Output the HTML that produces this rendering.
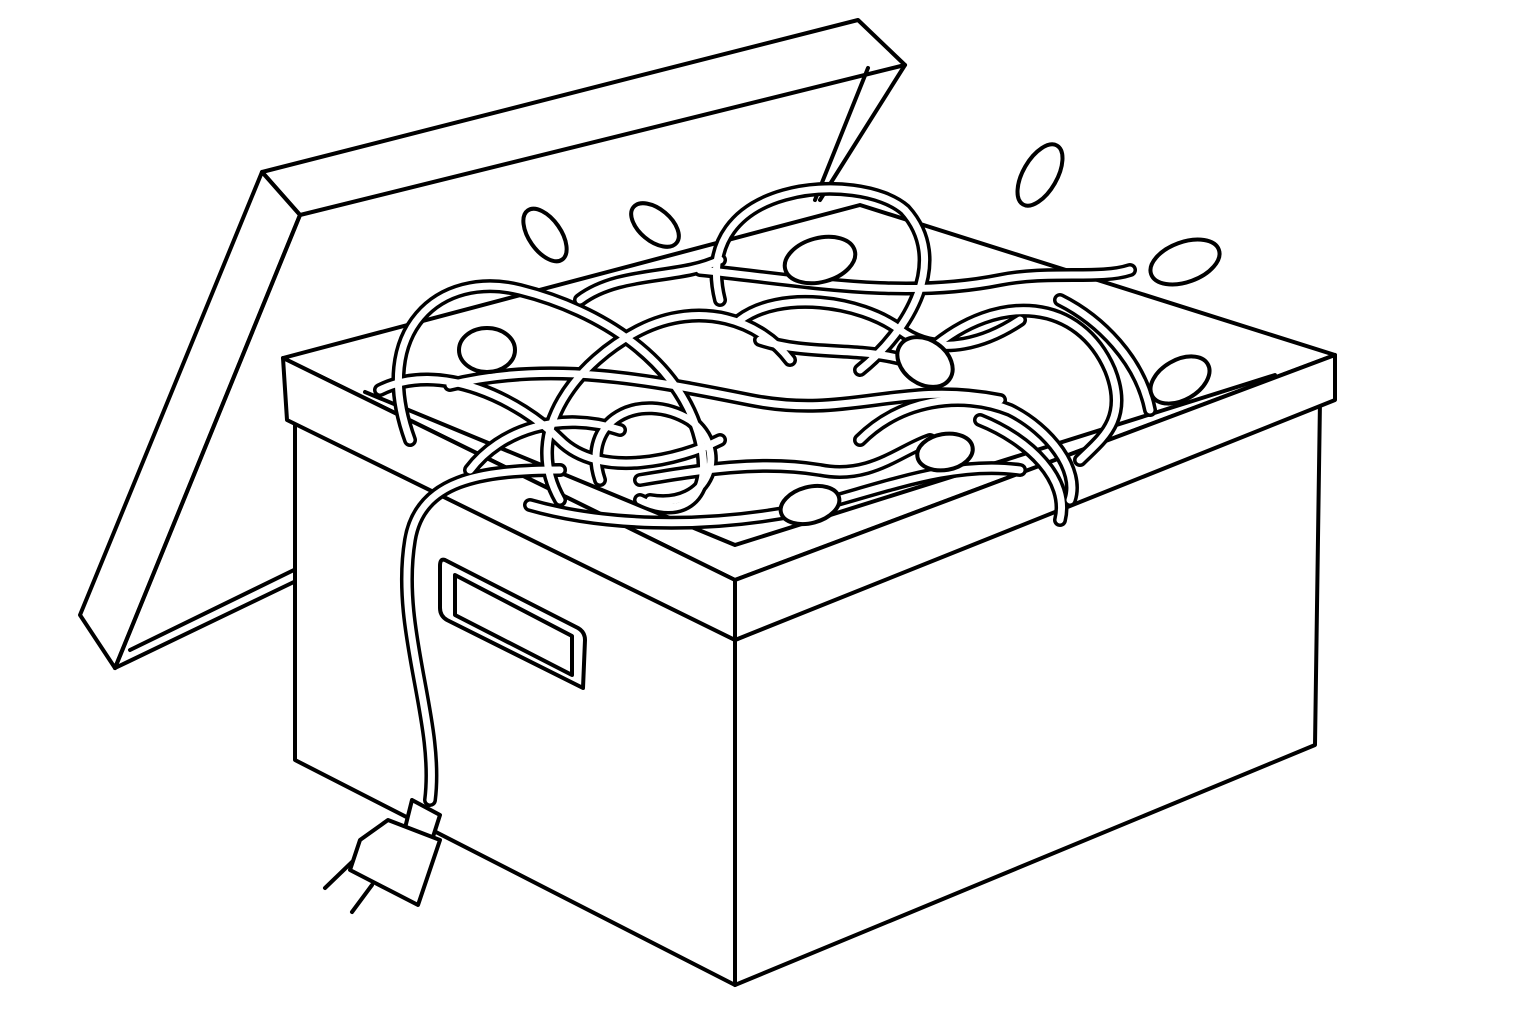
<!DOCTYPE html>
<html><head><meta charset="utf-8"><style>html,body{margin:0;padding:0;background:#fff}svg{display:block}</style></head>
<body>
<svg width="1536" height="1024" viewBox="0 0 1536 1024" xmlns="http://www.w3.org/2000/svg" stroke-linejoin="round" stroke-linecap="round">
<rect width="1536" height="1024" fill="#fff"/>
<g fill="#fff" stroke="#000" stroke-width="4">
  <polygon points="262,172 858,20 905,65 300,215"/>
  <polygon points="262,172 300,215 115,668 80,615"/>
  <polyline points="300,215 115,668" fill="none"/>
  <polyline points="905,65 820,200" fill="none"/>
  <line x1="868" y1="68" x2="815" y2="200"/>
  <line x1="115" y1="668" x2="298" y2="580"/>
  <line x1="130" y1="650" x2="298" y2="568"/>
</g>
<g fill="#fff" stroke="#000" stroke-width="4">
  <polygon points="295,420 735,640 735,985 295,760"/>
  <polygon points="735,640 1320,400 1315,745 735,985"/>
  <polygon points="283,358 860,205 1335,355 735,580"/>
  <polygon points="283,358 735,580 735,640 287,420"/>
  <polygon points="735,580 1335,355 1335,400 735,640"/>
  <polyline points="365,392 735,545 1275,375" fill="none"/>
</g>
<g fill="none" stroke="#000" stroke-width="4">
  <path d="M445,560 L578,628 Q585,632 585,640 L583,688 L447,620 Q440,616 440,608 L440,566 Q440,558 445,560 Z"/>
  <path d="M455,575 L572,636 L572,675 L455,615 Z"/>
</g>
<g fill="none">
  <g stroke="#000" stroke-width="14">
    <path d="M430,800 C440,720 395,630 410,540 C420,480 480,470 560,470"/>
    <path d="M410,440 C370,330 440,270 520,290 C600,310 680,360 700,440 C715,500 680,520 640,500"/>
    <path d="M720,300 C690,180 860,170 905,210 C950,260 910,330 860,370"/>
    <path d="M600,480 C580,420 640,390 690,420 C730,450 710,510 650,500"/>
    <path d="M930,350 C1000,290 1080,300 1110,370 C1130,420 1100,440 1080,460"/>
    <path d="M530,505 C600,525 700,530 800,510 C880,490 950,460 1020,470"/>
    <path d="M450,385 C550,360 650,380 750,400 C850,420 900,380 1000,400"/>
    <path d="M700,270 C800,280 900,300 1000,280 C1050,270 1100,280 1130,270"/>
    <path d="M760,340 C820,360 880,340 940,375"/>
    <path d="M380,390 C440,360 520,400 560,440 C600,480 680,460 720,440"/>
    <path d="M980,420 C1030,440 1070,480 1060,520"/>
    <path d="M560,500 C520,430 580,360 640,330 C700,300 760,320 790,360"/>
    <path d="M740,320 C780,290 860,300 900,330 C940,360 990,340 1020,320"/>
    <path d="M860,440 C900,400 960,390 1010,410 C1050,430 1080,470 1070,500"/>
    <path d="M470,470 C500,430 560,410 620,430"/>
    <path d="M640,480 C700,470 760,460 820,470 C870,480 900,450 930,440"/>
    <path d="M1060,300 C1100,320 1140,360 1150,410"/>
    <path d="M580,300 C620,270 680,280 720,260"/>
  </g>
  <g stroke="#fff" stroke-width="7">
    <path d="M430,800 C440,720 395,630 410,540 C420,480 480,470 560,470"/>
    <path d="M410,440 C370,330 440,270 520,290 C600,310 680,360 700,440 C715,500 680,520 640,500"/>
    <path d="M720,300 C690,180 860,170 905,210 C950,260 910,330 860,370"/>
    <path d="M600,480 C580,420 640,390 690,420 C730,450 710,510 650,500"/>
    <path d="M930,350 C1000,290 1080,300 1110,370 C1130,420 1100,440 1080,460"/>
    <path d="M530,505 C600,525 700,530 800,510 C880,490 950,460 1020,470"/>
    <path d="M450,385 C550,360 650,380 750,400 C850,420 900,380 1000,400"/>
    <path d="M700,270 C800,280 900,300 1000,280 C1050,270 1100,280 1130,270"/>
    <path d="M760,340 C820,360 880,340 940,375"/>
    <path d="M380,390 C440,360 520,400 560,440 C600,480 680,460 720,440"/>
    <path d="M980,420 C1030,440 1070,480 1060,520"/>
    <path d="M560,500 C520,430 580,360 640,330 C700,300 760,320 790,360"/>
    <path d="M740,320 C780,290 860,300 900,330 C940,360 990,340 1020,320"/>
    <path d="M860,440 C900,400 960,390 1010,410 C1050,430 1080,470 1070,500"/>
    <path d="M470,470 C500,430 560,410 620,430"/>
    <path d="M640,480 C700,470 760,460 820,470 C870,480 900,450 930,440"/>
    <path d="M1060,300 C1100,320 1140,360 1150,410"/>
    <path d="M580,300 C620,270 680,280 720,260"/>
  </g>
</g>
<g fill="#fff" stroke="#000" stroke-width="4">
  <ellipse cx="545" cy="235" rx="16" ry="30" transform="rotate(-35 545 235)"/>
  <ellipse cx="655" cy="225" rx="16" ry="28" transform="rotate(-50 655 225)"/>
  <ellipse cx="820" cy="260" rx="36" ry="22" transform="rotate(-15 820 260)"/>
  <ellipse cx="1040" cy="175" rx="17" ry="34" transform="rotate(30 1040 175)"/>
  <ellipse cx="1185" cy="262" rx="36" ry="20" transform="rotate(-20 1185 262)"/>
  <ellipse cx="487" cy="350" rx="28" ry="22"/>
  <ellipse cx="925" cy="362" rx="30" ry="22" transform="rotate(35 925 362)"/>
  <ellipse cx="945" cy="452" rx="28" ry="18" transform="rotate(-10 945 452)"/>
  <ellipse cx="810" cy="505" rx="30" ry="18" transform="rotate(-15 810 505)"/>
  <ellipse cx="1180" cy="380" rx="32" ry="20" transform="rotate(-30 1180 380)"/>
</g>
<g fill="#fff" stroke="#000" stroke-width="4">
  <polygon points="412,800 440,815 432,840 405,828"/>
  <polygon points="388,820 440,840 418,905 350,870 360,840"/>
  <line x1="352" y1="862" x2="325" y2="888"/>
  <line x1="372" y1="885" x2="352" y2="912"/>
</g>
</svg>
</body></html>
